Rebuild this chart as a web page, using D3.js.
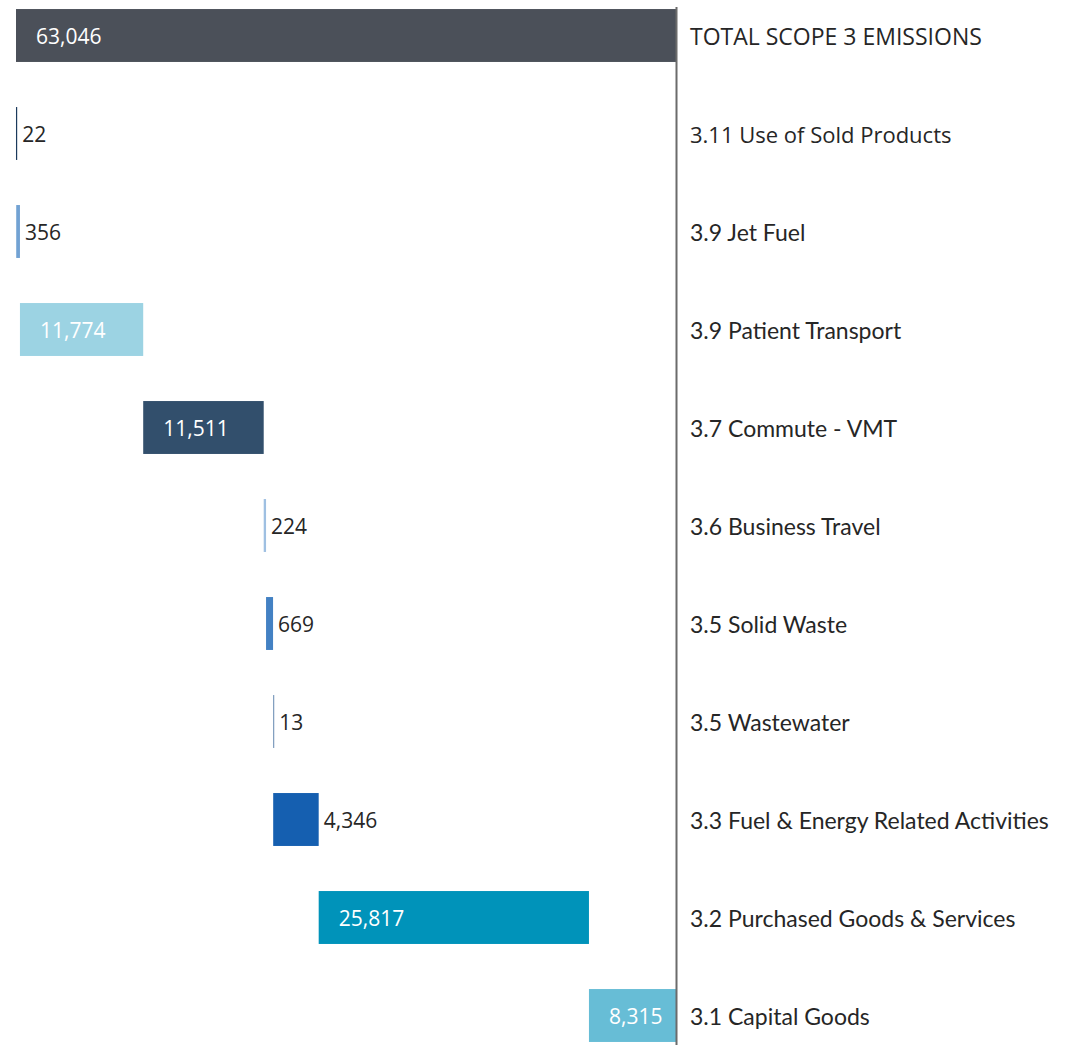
<!DOCTYPE html>
<html>
<head>
<meta charset="utf-8">
<script src="https://cdn.jsdelivr.net/npm/d3@7"></script>
<style>
  html, body { margin: 0; padding: 0; background: #ffffff; }
  svg { display: block; }
</style>
</head>
<body>
<svg id="chart" width="1069" height="1045"></svg>
<script>
// ---- data (top to bottom) ----
const categories = [
  "TOTAL SCOPE 3 EMISSIONS",
  "3.11 Use of Sold Products",
  "3.9 Jet Fuel",
  "3.9 Patient Transport",
  "3.7 Commute - VMT",
  "3.6 Business Travel",
  "3.5 Solid Waste",
  "3.5 Wastewater",
  "3.3 Fuel & Energy Related Activities",
  "3.2 Purchased Goods & Services",
  "3.1 Capital Goods"
];
const values = [63046, 22, 356, 11774, 11511, 224, 669, 13, 4346, 25817, 8315];
const isTotal = [true, false, false, false, false, false, false, false, false, false, false];
const colors = ["#4b5059", "#1b3a5c", "#72a2d3", "#9cd3e3", "#324f6c", "#9fc0e2",
                "#4381c3", "#7d9bbd", "#155fb0", "#0093ba", "#67bdd6"];
const labelFonts = ["'Open Sans'", "'Open Sans'", "Lato", "Lato", "Lato", "Lato",
                    "Lato", "Lato", "Lato", "Lato", "Lato"];

// ---- waterfall stacking (from bottom row upward) ----
const rows = categories.map((c, i) => ({ cat: c, value: values[i], total: isTotal[i], color: colors[i], font: labelFonts[i] }));
let cum = 0;
for (let i = rows.length - 1; i >= 0; i--) {
  const r = rows[i];
  if (r.total) { r.start = 0; r.end = r.value; }
  else { r.start = cum; r.end = cum + r.value; cum = r.end; }
}

const svg = d3.select("#chart");
const axisX = 676;

const x = d3.scaleLinear().domain([0, 63046]).range([axisX, 16]);
const y = d3.scaleBand().domain(categories).range([-13.5, 1064.5])
  .paddingInner(0.46).paddingOuter(0.23);

const fmt = d3.format(",");

// bars
svg.append("g").selectAll("rect").data(rows).join("rect")
  .attr("x", d => x(d.end))
  .attr("y", d => y(d.cat))
  .attr("width", d => Math.max(x(d.start) - x(d.end), 1.2))
  .attr("height", y.bandwidth())
  .attr("fill", d => d.color);

// value labels
svg.append("g").selectAll("text").data(rows).join("text")
  .attr("font-family", "'Open Sans', sans-serif")
  .attr("font-size", 21)
  .attr("dominant-baseline", "central")
  .attr("y", d => y(d.cat) + y.bandwidth() / 2)
  .each(function (d) {
    const w = x(d.start) - x(d.end);
    const inside = w > 80;
    d3.select(this)
      .attr("x", inside ? x(d.end) + 20 : x(d.end) + Math.max(w, 1.2) + 5)
      .attr("fill", inside ? "#ffffff" : "#262626")
      .text(fmt(d.value));
  });

// axis line
svg.append("line")
  .attr("x1", axisX + 0.5).attr("x2", axisX + 0.5)
  .attr("y1", 7).attr("y2", 1045)
  .attr("stroke", "#6b6b6b").attr("stroke-width", 2);

// category labels
svg.append("g").selectAll("text").data(rows).join("text")
  .attr("x", 690)
  .attr("y", d => y(d.cat) + y.bandwidth() / 2)
  .attr("dominant-baseline", "central")
  .attr("font-family", d => d.font + ", sans-serif")
  .attr("font-size", (d, i) => d.font === "Lato" ? 23 : (i === 0 ? 23 : 22))
  .attr("fill", "#262626")
  .text(d => d.cat);
</script>
</body>
</html>
